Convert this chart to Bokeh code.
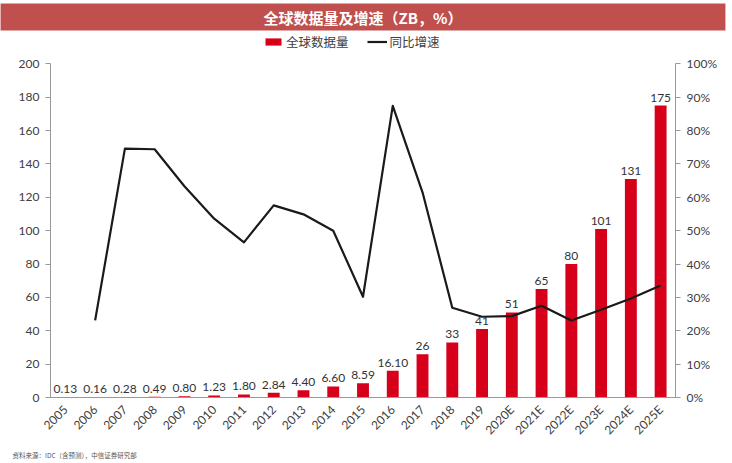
import math
from bokeh.plotting import figure
from bokeh.models import (Range1d, LinearAxis, FactorRange, ColumnDataSource, Legend,
                          LegendItem, SingleIntervalTicker, PrintfTickFormatter, Title)
from bokeh.embed import file_html
from bokeh.resources import INLINE
from bokeh.core.properties import value

years = ["2005", "2006", "2007", "2008", "2009", "2010", "2011", "2012", "2013", "2014",
         "2015", "2016", "2017", "2018", "2019", "2020E", "2021E", "2022E", "2023E",
         "2024E", "2025E"]
volume = [0.13, 0.16, 0.28, 0.49, 0.80, 1.23, 1.80, 2.84, 4.40, 6.60, 8.59, 16.10,
          26, 33, 41, 51, 65, 80, 101, 131, 175]
volume_labels = ["0.13", "0.16", "0.28", "0.49", "0.80", "1.23", "1.80", "2.84", "4.40",
                 "6.60", "8.59", "16.10", "26", "33", "41", "51", "65", "80", "101",
                 "131", "175"]
growth = [float("nan"), 23.1, 74.6, 74.4, 63.3, 53.6, 46.5, 57.6, 54.9, 50.0, 30.2, 87.4,
          61.5, 26.9, 24.2, 24.4, 27.5, 23.1, 26.3, 29.7, 33.6]

CJK = "Noto Sans CJK SC"
LAT = "Lato"
AXIS_GREY = "#999999"
LABEL_GREY = "#404040"

src = ColumnDataSource(dict(year=years, volume=volume, vlabel=volume_labels, growth=growth))

p = figure(width=730, height=461, x_range=FactorRange(*years), y_range=Range1d(0, 220),
           toolbar_location=None, output_backend="svg",
           min_border_left=50, min_border_right=55, min_border_top=30, min_border_bottom=60)
p.grid.visible = False
p.outline_line_color = None
p.extra_y_ranges = {"pct": Range1d(0, 110)}

# banner title
p.add_layout(Title(text="全球数据量及增速（ZB，%）", align="center", text_color="white",
                   text_font=CJK, text_font_style="bold", text_font_size="15px",
                   background_fill_color="#c0504d", background_fill_alpha=1,
                   padding=dict(left=263, right=263, top=3, bottom=3), standoff=0),
             "above")

bars = p.vbar(x="year", top="volume", width=0.4, source=src, fill_color="#d7001b",
              line_color=None)
line = p.line(x="year", y="growth", y_range_name="pct", source=src, line_color="#1a1a1a",
              line_width=2.2, line_join="round")
p.text(x="year", y="volume", text="vlabel", source=src, text_align="center",
       text_baseline="bottom", y_offset=-4, text_font_size="12px", text_color="#333333",
       text_font=value(LAT))

yl = p.yaxis[0]
yl.ticker = SingleIntervalTicker(interval=20)
yl.bounds = (0, 200)
yr = LinearAxis(y_range_name="pct", ticker=SingleIntervalTicker(interval=10),
                formatter=PrintfTickFormatter(format="%d%%"), bounds=(0, 100))
p.add_layout(yr, "right")

for ax in [yl, yr]:
    ax.axis_line_color = AXIS_GREY
    ax.major_tick_line_color = AXIS_GREY
    ax.major_tick_out = 5
    ax.major_tick_in = 0
    ax.minor_tick_line_color = None
    ax.major_label_text_font = LAT
    ax.major_label_text_font_size = "12px"
    ax.major_label_text_color = LABEL_GREY
    ax.major_label_standoff = 6

xa = p.xaxis[0]
xa.axis_line_color = AXIS_GREY
xa.major_tick_line_color = None
xa.major_tick_out = 4
xa.major_tick_in = 0
xa.major_label_orientation = math.pi / 4
xa.major_label_text_font = LAT
xa.major_label_text_font_size = "12px"
xa.major_label_text_color = LABEL_GREY
xa.major_label_standoff = 6

legend = Legend(items=[LegendItem(label="全球数据量", renderers=[bars]),
                       LegendItem(label="同比增速", renderers=[line])],
                orientation="horizontal", location=(213, 346), border_line_color=None,
                background_fill_alpha=0, label_text_font=CJK, label_text_font_size="12.5px",
                label_text_color=LABEL_GREY, glyph_width=20, glyph_height=9, spacing=18,
                padding=2, margin=0, label_standoff=3)
p.add_layout(legend)

p.add_layout(Title(text="资料来源：IDC（含预测），中信证券研究部", align="left",
                   text_font=CJK, text_font_style="normal", text_font_size="6.5px",
                   text_color="#555555", offset=-38, standoff=4), "below")

open("out.html", "w").write(file_html(p, INLINE))
